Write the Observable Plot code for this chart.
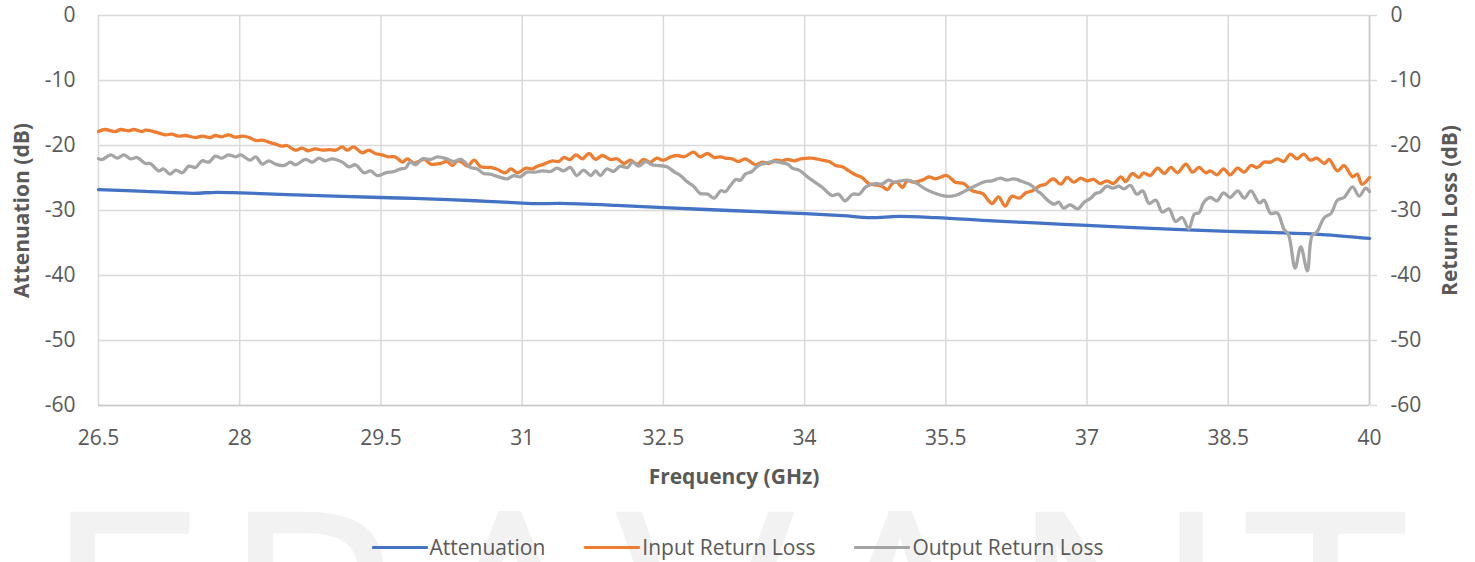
<!DOCTYPE html>
<html>
<head>
<meta charset="utf-8">
<script src="https://cdn.jsdelivr.net/npm/d3@7"></script>
<script src="https://cdn.jsdelivr.net/npm/@observablehq/plot@0.6"></script>
<style>
  html, body { margin: 0; padding: 0; background: #fff; }
  body { width: 1475px; height: 562px; overflow: hidden; position: relative; font-family: "Open Sans", sans-serif; }
  #wm { position: absolute; left: 0; top: 0; z-index: 0; }
  #chart { position: relative; z-index: 1; height: 500px; }
  #legend { position: relative; z-index: 1; display: flex; justify-content: center; align-items: center;
            gap: 39px; margin-top: 36px; height: 22px; font-size: 21px; color: #595959; }
  .item { display: flex; align-items: center; white-space: nowrap; }
  .swatch { width: 56px; height: 3px; margin-right: 2px; border-radius: 1px; }
</style>
</head>
<body>
<svg id="wm" width="1475" height="562"><text x="41" y="726" font-family="Open Sans" font-size="300" letter-spacing="11" fill="#f2f2f2">ERAVANT</text></svg>
<div id="chart"></div>
<div id="legend"></div>
<script>
const xTicks = [26.5, 28, 29.5, 31, 32.5, 34, 35.5, 37, 38.5, 40];
const yTicks = [0, -10, -20, -30, -40, -50, -60];
const seriesNames = ["Attenuation", "Input Return Loss", "Output Return Loss"];
const seriesColors = ["#4472C4", "#ED7D31", "#A5A5A5"];

const attFreq = [26.5, 27.0, 27.5, 27.75, 28.0, 28.6, 29.5, 29.85, 30.5, 31.0, 31.15, 31.4, 32.0, 32.5, 33.2, 33.8, 34.4, 34.7, 35.0, 35.4, 36.0, 36.5, 37.0, 37.5, 38.0, 38.5, 39.0, 39.5, 40.0];
const attenuation = [-26.8, -27.05, -27.35, -27.2, -27.28, -27.6, -28.0, -28.15, -28.5, -28.85, -28.95, -28.9, -29.2, -29.55, -30.0, -30.35, -30.8, -31.1, -30.9, -31.1, -31.6, -31.95, -32.3, -32.65, -32.95, -33.2, -33.4, -33.7, -34.3];

const inFreq = [26.5, 26.57, 26.68, 26.73, 26.82, 26.875, 26.96, 27.0, 27.11, 27.21, 27.28, 27.35, 27.42, 27.53, 27.6, 27.69, 27.74, 27.81, 27.88, 27.955, 28.03, 28.1, 28.17, 28.24, 28.31, 28.38, 28.45, 28.5, 28.59, 28.66, 28.73, 28.8, 28.88, 28.95, 29.02, 29.09, 29.14, 29.21, 29.3, 29.37, 29.44, 29.51, 29.58, 29.65, 29.73, 29.78, 29.85, 29.96, 30.03, 30.13, 30.2, 30.26, 30.31, 30.36, 30.42, 30.49, 30.56, 30.66, 30.74, 30.82, 30.88, 30.95, 31.04, 31.11, 31.16, 31.23, 31.32, 31.39, 31.44, 31.51, 31.57, 31.64, 31.71, 31.78, 31.85, 31.94, 32.01, 32.08, 32.15, 32.22, 32.29, 32.36, 32.43, 32.5, 32.58, 32.65, 32.72, 32.82, 32.89, 32.97, 33.04, 33.11, 33.16, 33.23, 33.3, 33.37, 33.48, 33.55, 33.62, 33.69, 33.76, 33.82, 33.89, 33.96, 34.08, 34.19, 34.26, 34.33, 34.4, 34.47, 34.54, 34.61, 34.68, 34.75, 34.82, 34.88, 34.93, 34.98, 35.04, 35.09, 35.16, 35.25, 35.32, 35.39, 35.51, 35.6, 35.69, 35.78, 35.89, 35.99, 36.06, 36.13, 36.2, 36.28, 36.35, 36.42, 36.49, 36.56, 36.64, 36.72, 36.79, 36.86, 36.93, 37.0, 37.07, 37.14, 37.21, 37.28, 37.36, 37.41, 37.48, 37.55, 37.6, 37.67, 37.75, 37.82, 37.89, 37.96, 38.05, 38.12, 38.19, 38.26, 38.31, 38.38, 38.45, 38.52, 38.6, 38.67, 38.74, 38.81, 38.88, 38.95, 39.02, 39.09, 39.16, 39.23, 39.3, 39.37, 39.44, 39.52, 39.57, 39.66, 39.73, 39.82, 39.87, 39.92, 40.0];
const inputRL = [-17.85, -17.54, -17.85, -17.54, -17.74, -17.54, -17.85, -17.64, -17.95, -18.36, -18.26, -18.56, -18.46, -18.77, -18.56, -18.77, -18.46, -18.67, -18.36, -18.72, -18.56, -18.77, -19.23, -19.18, -19.49, -19.79, -20.1, -20.0, -20.72, -20.41, -20.82, -20.51, -20.72, -20.62, -20.72, -20.21, -20.72, -20.21, -21.13, -20.72, -21.23, -21.44, -21.74, -21.74, -22.56, -22.05, -22.7, -22.15, -22.87, -22.77, -22.46, -23.08, -22.36, -22.56, -23.18, -22.26, -23.28, -23.38, -23.69, -24.2, -23.59, -24.2, -23.49, -23.59, -23.18, -22.87, -22.36, -22.46, -21.85, -22.15, -21.44, -22.05, -21.23, -22.15, -21.54, -22.15, -22.05, -22.77, -22.26, -22.87, -22.15, -22.56, -21.95, -22.26, -21.74, -21.54, -21.74, -21.03, -21.74, -21.23, -21.85, -21.74, -21.95, -22.05, -22.46, -22.05, -22.97, -22.56, -22.77, -22.26, -22.36, -22.15, -22.36, -22.05, -21.95, -22.26, -22.46, -23.08, -23.28, -23.9, -24.51, -24.92, -25.85, -26.05, -26.26, -26.77, -25.85, -25.64, -26.46, -25.44, -25.64, -25.33, -24.82, -25.13, -24.62, -25.64, -25.85, -26.97, -27.38, -28.92, -27.9, -29.33, -27.8, -28.1, -27.28, -26.97, -26.26, -25.95, -25.13, -25.95, -24.92, -25.64, -25.03, -25.44, -25.23, -25.85, -25.44, -25.85, -24.82, -25.54, -24.31, -24.92, -24.2, -24.62, -23.49, -24.31, -23.38, -24.2, -22.87, -24.1, -23.38, -24.2, -23.9, -24.51, -23.59, -24.51, -23.49, -24.1, -23.08, -23.38, -22.56, -22.56, -22.05, -22.46, -21.33, -22.05, -21.33, -22.26, -21.95, -22.77, -22.15, -23.9, -23.08, -24.82, -24.41, -25.95, -24.92];

const outFreq = [26.5, 26.54, 26.63, 26.7, 26.77, 26.84, 26.91, 27.0, 27.05, 27.14, 27.19, 27.26, 27.32, 27.39, 27.46, 27.53, 27.6, 27.67, 27.74, 27.81, 27.88, 27.955, 28.01, 28.11, 28.17, 28.24, 28.31, 28.38, 28.47, 28.54, 28.59, 28.7, 28.77, 28.84, 28.91, 28.98, 29.09, 29.16, 29.23, 29.32, 29.39, 29.46, 29.55, 29.64, 29.71, 29.76, 29.81, 29.87, 29.94, 30.03, 30.1, 30.2, 30.27, 30.35, 30.45, 30.52, 30.59, 30.66, 30.75, 30.84, 30.91, 30.98, 31.05, 31.14, 31.21, 31.3, 31.37, 31.44, 31.51, 31.58, 31.65, 31.73, 31.78, 31.83, 31.9, 31.97, 32.04, 32.12, 32.17, 32.24, 32.31, 32.38, 32.45, 32.54, 32.61, 32.68, 32.75, 32.82, 32.89, 32.97, 33.04, 33.11, 33.16, 33.21, 33.27, 33.32, 33.37, 33.44, 33.51, 33.6, 33.67, 33.76, 33.82, 33.87, 33.94, 34.03, 34.12, 34.19, 34.29, 34.36, 34.43, 34.51, 34.58, 34.65, 34.75, 34.82, 34.89, 34.95, 35.02, 35.09, 35.18, 35.28, 35.39, 35.5, 35.6, 35.71, 35.82, 35.92, 35.99, 36.08, 36.15, 36.22, 36.31, 36.4, 36.47, 36.51, 36.58, 36.65, 36.7, 36.75, 36.82, 36.9, 36.97, 37.04, 37.09, 37.14, 37.21, 37.27, 37.34, 37.39, 37.46, 37.53, 37.59, 37.66, 37.73, 37.8, 37.87, 37.94, 38.01, 38.08, 38.14, 38.19, 38.24, 38.31, 38.38, 38.45, 38.52, 38.6, 38.67, 38.74, 38.83, 38.88, 38.95, 39.02, 39.09, 39.14, 39.21, 39.27, 39.34, 39.39, 39.44, 39.52, 39.59, 39.66, 39.73, 39.82, 39.89, 39.96, 40.0];
const outputRL = [-22.05, -22.15, -21.44, -21.95, -21.44, -22.05, -21.85, -22.77, -22.77, -23.9, -23.59, -24.41, -23.79, -24.2, -23.18, -23.38, -22.36, -22.56, -21.64, -21.95, -21.44, -21.74, -21.44, -22.26, -21.74, -22.87, -22.36, -22.87, -23.08, -22.56, -22.97, -22.15, -22.56, -21.95, -22.36, -22.05, -22.56, -23.28, -22.97, -24.2, -23.9, -24.62, -24.2, -24.0, -23.59, -23.49, -22.56, -22.97, -22.05, -22.15, -21.74, -22.05, -22.46, -22.15, -23.38, -23.59, -24.31, -24.41, -24.82, -25.13, -24.62, -24.82, -24.1, -24.1, -23.9, -24.0, -23.49, -23.9, -23.38, -24.62, -23.79, -24.62, -23.9, -24.62, -23.59, -24.0, -23.18, -23.38, -22.56, -23.18, -22.46, -22.97, -23.08, -23.28, -24.0, -24.62, -25.54, -26.26, -27.38, -27.49, -28.1, -26.97, -27.08, -26.2, -25.23, -25.33, -24.41, -24.0, -23.08, -22.67, -22.46, -22.67, -22.87, -23.49, -23.79, -24.82, -25.74, -26.46, -27.69, -27.49, -28.51, -27.49, -27.49, -26.36, -25.85, -25.95, -25.33, -25.64, -25.44, -25.33, -25.74, -26.67, -27.38, -27.8, -27.69, -26.97, -26.15, -25.54, -25.44, -25.03, -25.33, -25.13, -25.54, -26.05, -26.97, -27.38, -28.41, -29.03, -28.72, -29.64, -29.13, -29.74, -28.72, -28.1, -27.38, -27.18, -26.26, -26.56, -26.26, -26.67, -26.15, -27.49, -26.97, -28.92, -28.41, -30.26, -29.74, -31.69, -31.08, -32.82, -30.56, -30.36, -28.72, -28.0, -28.51, -27.28, -28.0, -26.97, -28.1, -26.97, -28.82, -28.41, -30.46, -30.36, -32.82, -33.74, -38.87, -35.59, -39.28, -33.85, -33.33, -31.08, -30.46, -28.41, -28.0, -26.36, -27.8, -26.56, -27.08];

const toRows = (fs, vs) => fs.map((f, i) => ({f, v: vs[i]}));
const attRows = toRows(attFreq, attenuation);
const inRows = toRows(inFreq, inputRL);
const outRows = toRows(outFreq, outputRL);

const txt = "#595959";
const lw = 3.3;
const chart = Plot.plot({
  width: 1475,
  height: 500,
  marginTop: 15,
  marginLeft: 98,
  marginRight: 106,
  marginBottom: 95,
  style: {fontFamily: "Open Sans", fontSize: "21px", color: txt, background: "transparent", overflow: "visible"},
  x: {domain: [26.5, 40]},
  y: {domain: [-60, 0]},
  marks: [
    Plot.gridX(xTicks, {stroke: "#d9d9d9", strokeOpacity: 1, strokeWidth: 1.5}),
    Plot.gridY(yTicks, {stroke: "#d9d9d9", strokeOpacity: 1, strokeWidth: 1.5}),
    Plot.ruleX([40], {stroke: "#c9c9c9", strokeWidth: 1.5}),
    Plot.ruleY([-60], {stroke: "#c9c9c9", strokeWidth: 1.5}),
    Plot.axisX(xTicks, {tickSize: 0, tickPadding: 25, tickFormat: d => String(d), label: null, fill: txt, fontSize: 21}),
    Plot.axisY(yTicks, {anchor: "left", tickSize: 0, tickPadding: 23, tickFormat: d => String(d), label: null, fill: txt, fontSize: 21}),
    Plot.axisY(yTicks, {anchor: "right", tickSize: 7, tickPadding: 14, stroke: "#d9d9d9", strokeWidth: 1.5, tickFormat: d => String(d), label: null, fill: txt, fontSize: 21}),
    Plot.line(attRows, {x: "f", y: "v", stroke: seriesColors[0], strokeWidth: lw, curve: "catmull-rom"}),
    Plot.line(inRows, {x: "f", y: "v", stroke: seriesColors[1], strokeWidth: lw, curve: "catmull-rom"}),
    Plot.line(outRows, {x: "f", y: "v", stroke: seriesColors[2], strokeWidth: lw, curve: "catmull-rom"}),
    Plot.text(["Attenuation (dB)"], {frameAnchor: "left", dx: -76, rotate: -90, fontWeight: "bold", fontSize: 21, fill: txt, textAnchor: "middle", lineAnchor: "middle"}),
    Plot.text(["Return Loss (dB)"], {frameAnchor: "right", dx: 81, rotate: -90, fontWeight: "bold", fontSize: 21, fill: txt, textAnchor: "middle", lineAnchor: "middle"}),
    Plot.text(["Frequency (GHz)"], {frameAnchor: "bottom", dy: 72, fontWeight: "bold", fontSize: 21, fill: txt, textAnchor: "middle", lineAnchor: "middle"})
  ]
});
document.getElementById("chart").appendChild(chart);

const legend = document.getElementById("legend");
seriesNames.forEach((name, i) => {
  const item = document.createElement("div");
  item.className = "item";
  const sw = document.createElement("span");
  sw.className = "swatch";
  sw.style.background = seriesColors[i];
  const label = document.createElement("span");
  label.textContent = name;
  item.appendChild(sw);
  item.appendChild(label);
  legend.appendChild(item);
});
</script>
</body>
</html>
